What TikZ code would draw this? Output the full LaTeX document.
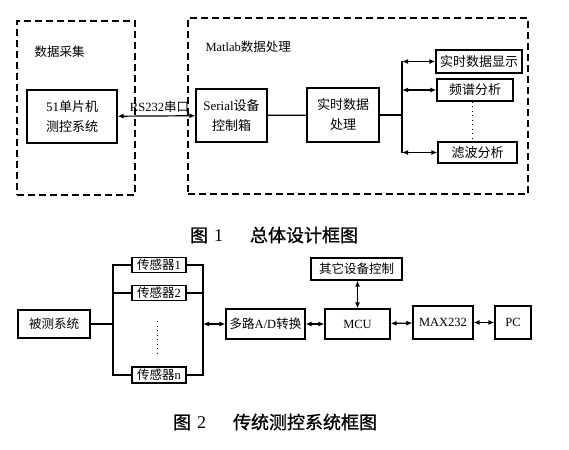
\documentclass[tikz,border=0pt]{standalone}
\usepackage{fontspec}
\setmainfont{Liberation Serif}
\newfontfamily\cjk{Noto Sans CJK SC}
\newfontfamily\cjkb[FakeBold=1]{Noto Sans CJK SC}
\usetikzlibrary{arrows.meta,positioning,calc}

\begin{document}
\begin{tikzpicture}[
x=1pt, y=-1pt,
box/.style={draw, line width=1.2pt, inner sep=0pt, align=center, font=\fontsize{13}{20}\selectfont},
sbox/.style={box, font=\fontsize{12.5}{14}\selectfont},
group/.style={draw, line width=1.5pt, dash pattern=on 7pt off 4pt, inner sep=0pt},
title/.style={font=\fontsize{12.5}{14}\selectfont, anchor=west},
caption/.style={font=\fontsize{18}{20}\selectfont},
line/.style={line width=1.2pt},
biarrow/.style={line, {Latex[length=6pt,width=5pt]}-{Latex[length=6pt,width=5pt]}},
dots/.style={line width=1pt, dash pattern=on 1pt off 3.5pt}
]
\useasboundingbox (0,0) rectangle (569,449);

% figure 1
\node[group, minimum width=118pt, minimum height=174pt] (acq) at (76,108) {};
\node[group, minimum width=340pt, minimum height=176pt] (matlab) at (358,106) {};
\node[title] (acqlbl) at (31,52) {\cjk 数据采集};
\node[title] (matlbl) at (202,47) {Matlab{\cjk 数据处理}};

\node[box, minimum width=90pt, minimum height=53pt] (mcs) at (72,116.5) {51{\cjk 单片机}\\{\cjk 测控系统}};
\node[box, minimum width=71pt, minimum height=53pt] (serial) at (231.5,115.5) {Serial{\cjk 设备}\\{\cjk 控制箱}};
\node[box, minimum width=72pt, minimum height=54pt] (proc) at (343,115) {\cjk 实时数据\\\cjk 处理};
\node[box, minimum width=86pt, minimum height=23pt] (show) at (479,61.5) {\cjk 实时数据显示};
\node[box, minimum width=76pt, minimum height=22pt] (spec) at (475,90) {\cjk 频谱分析};
\node[box, minimum width=79pt, minimum height=21pt] (filt) at (477.5,152.5) {\cjk 滤波分析};

\draw[biarrow] (mcs) -- node[above, font=\fontsize{12.5}{14}\selectfont, xshift=3pt] (rs) {RS232{\cjk 串口}} (serial);
\draw[line] (serial) -- (proc);
\coordinate (br) at (402,0);
\draw[line] (proc.east) -- (proc.east -| br);
\draw[line] (show.west -| br) -- (filt.west -| br);
\draw[biarrow] (show.west -| br) -- (show.west);
\draw[biarrow] (spec.west -| br) -- (spec.west);
\draw[biarrow] (filt.west -| br) -- (filt.west);
\draw[dots] (spec.south -| 472,0) -- (filt.north -| 472,0);

\node[caption] (cap1) at (274,235) {{\cjkb 图}\,\,1\quad\enspace{\cjkb 总体设计框图}};

% figure 2
\node[sbox, minimum width=72pt, minimum height=28pt] (obj) at (54,324) {\cjk 被测系统};
\node[sbox, minimum width=54pt, minimum height=15pt] (s1) at (159,265) {{\cjk 传感器}1};
\node[sbox, minimum width=54pt, minimum height=15pt] (s2) at (159,293) {{\cjk 传感器}2};
\node[sbox, minimum width=54pt, minimum height=16pt] (sn) at (159,375) {{\cjk 传感器}n};
\node[sbox, minimum width=79pt, minimum height=30pt] (ad) at (265.5,324) {{\cjk 多路}A/D{\cjk 转换}};
\node[sbox, minimum width=65pt, minimum height=30pt] (mcu) at (357.5,324) {MCU};
\node[sbox, minimum width=91pt, minimum height=22pt] (other) at (356.5,269) {\cjk 其它设备控制};
\node[sbox, minimum width=60pt, minimum height=33pt] (max) at (443,322.5) {MAX232};
\node[sbox, minimum width=36pt, minimum height=33pt] (pc) at (513,322.5) {PC};

\coordinate (lbus) at (113,0);
\coordinate (rbus) at (203,0);
\draw[line] (obj.east) -- (obj.east -| lbus);
\draw[line] (s1.west) -- (s1.west -| lbus) |- (sn.west);
\draw[line] (s2.west) -- (s2.west -| lbus);
\draw[line] (s1.east) -- (s1.east -| rbus) |- (sn.east);
\draw[line] (s2.east) -- (s2.east -| rbus);
\draw[dots] ($(s2.south)+(-2,20)$) -- ($(sn.north)+(-2,-10)$);
\draw[biarrow] (ad.west -| rbus) -- (ad.west);
\draw[biarrow] (ad) -- (mcu);
\draw[biarrow] (other.south -| mcu.north) -- (mcu.north);
\draw[biarrow] (mcu) -- (max);
\draw[biarrow] (max) -- (pc);

\node[caption] (cap2) at (275,422) {{\cjkb 图}\,\,2\quad\enspace{\cjkb 传统测控系统框图}};
\end{tikzpicture}
\end{document}
